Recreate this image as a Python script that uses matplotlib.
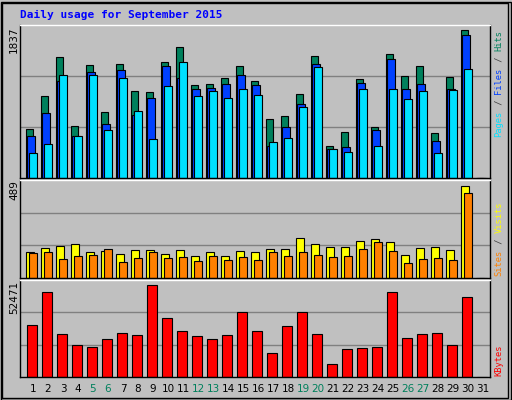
import matplotlib
matplotlib.use("Agg")
import matplotlib.pyplot as plt
import numpy as np

days = list(range(1, 32))
weekend = [5, 6, 12, 13, 19, 20, 26, 27]
hits = [613, 1024, 1509, 651, 1410, 825, 1422, 1082, 1070, 1447, 1634, 1161, 1174, 1248, 1397, 1211, 738, 775, 1050, 1522, 402, 576, 1236, 635, 1547, 1273, 1397, 564, 1261, 1837, 0]
files = [526, 813, 1202, 526, 1323, 675, 1348, 788, 995, 1397, 1248, 1111, 1124, 1174, 1286, 1161, 402, 638, 925, 1422, 365, 390, 1186, 601, 1485, 1111, 1174, 464, 1111, 1783, 0]
pages = [315, 427, 1286, 526, 1286, 601, 1248, 838, 489, 1149, 1447, 1024, 1086, 999, 1111, 1036, 452, 502, 885, 1385, 365, 327, 1111, 402, 1111, 987, 1086, 315, 1099, 1361, 0]
visits = [138, 161, 172, 182, 138, 145, 129, 150, 150, 127, 150, 119, 138, 119, 145, 138, 156, 156, 214, 182, 167, 167, 198, 209, 193, 124, 161, 167, 150, 489, 0]
sites = [133, 138, 103, 119, 124, 156, 87, 108, 138, 108, 113, 92, 119, 98, 113, 98, 138, 119, 138, 124, 113, 119, 156, 193, 145, 82, 103, 108, 98, 454, 0]
kbytes = [29680, 48640, 24500, 18190, 17040, 21630, 25080, 23930, 52860, 33700, 26230, 23360, 21630, 23930, 37150, 26230, 13580, 29110, 37150, 24500, 7640, 15890, 16470, 17040, 48640, 22210, 24500, 25080, 18190, 45770, 0]

BG = "#c0c0c0"
fig = plt.figure(figsize=(5.12, 4.0), dpi=100, facecolor=BG)
W, H = 512, 400
def ax_at(x0, y0, x1, y1):
    return fig.add_axes([x0 / W, 1 - y1 / H, (x1 - x0) / W, (y1 - y0) / H])

x = np.array(days, dtype=float)
panels = [(25, 178), (180, 278), (280, 377)]
maxes = [1837, 489, 52471]
toppx = [147.7, 92.0, 91.3]
axes = []
for (y0, y1), m, tp in zip(panels, maxes, toppx):
    ax = ax_at(20, y0, 490, y1)
    ax.set_facecolor(BG)
    ymax = m * (y1 - y0) / tp
    ax.set_ylim(0, ymax)
    ax.set_xlim(1 - 13 / 15, 31 + 7 / 15)
    for f in (1 / 3, 2 / 3):
        ax.axhline(ymax * f, color="#808080", lw=1, zorder=0)
    ax.set_xticks([]); ax.set_yticks([])
    for s in ax.spines.values():
        s.set_color("black"); s.set_linewidth(1)
    ax.spines["top"].set_color("white")
    axes.append(ax)

kw = dict(align="edge", edgecolor="black", linewidth=0.8)
a = axes[0]
a.bar(x - 0.49, hits, 0.47, color="#00805c", **kw)
a.bar(x - 0.38, files, 0.49, color="#0040ff", **kw)
a.bar(x - 0.25, pages, 0.49, color="#00e0ff", **kw)
a = axes[1]
a.bar(x - 0.49, visits, 0.53, color="#ffff00", **kw)
a.bar(x - 0.25, sites, 0.49, color="#ff8000", **kw)
a = axes[2]
a.bar(x - 0.42, kbytes, 0.67, color="#ff0000", **kw)

for d in days:
    fig.text((33 + 15 * (d - 1)) / W, 1 - 389 / H, str(d), ha="center", va="center",
             fontsize=7.5, color="#00805c" if d in weekend else "black")

fig.text(20 / W, 1 - 15 / H, "Daily usage for September 2015", fontsize=8,
         family="DejaVu Sans Mono", weight="bold", color="#0000ff", va="center")
for lab, yc in [("1837", 40), ("489", 190), ("52471", 297)]:
    fig.text(14 / W, 1 - yc / H, lab, rotation=90, ha="center", va="center", fontsize=7.5)

STEP = 5.4
def vlabel(parts, ybottom):
    pos = 0
    for txt, col in parts:
        fig.text(499 / W, 1 - (ybottom - pos * STEP) / H, txt, rotation=90, ha="center",
                 va="bottom", fontsize=6.3, family="DejaVu Sans Mono", color=col)
        pos += len(txt)

vlabel([("Pages", "#00e0ff"), (" / ", "#404040"), ("Files", "#0040ff"), (" / ", "#404040"), ("Hits", "#00805c")], 137)
vlabel([("Sites", "#ff8000"), (" / ", "#404040"), ("Visits", "#ffff00")], 276)
vlabel([("KBytes", "#ff0000")], 376)

fig.add_artist(plt.Rectangle((2 / W, 2 / H), 506 / W, 395 / H, transform=fig.transFigure,
                             fill=False, edgecolor="black", lw=1))
fig.add_artist(plt.Rectangle((0.5 / W, 0.5 / H), 510 / W, 398 / H, transform=fig.transFigure,
                             fill=False, edgecolor="black", lw=1))
fig.savefig("out.png", dpi=100, facecolor=BG)
